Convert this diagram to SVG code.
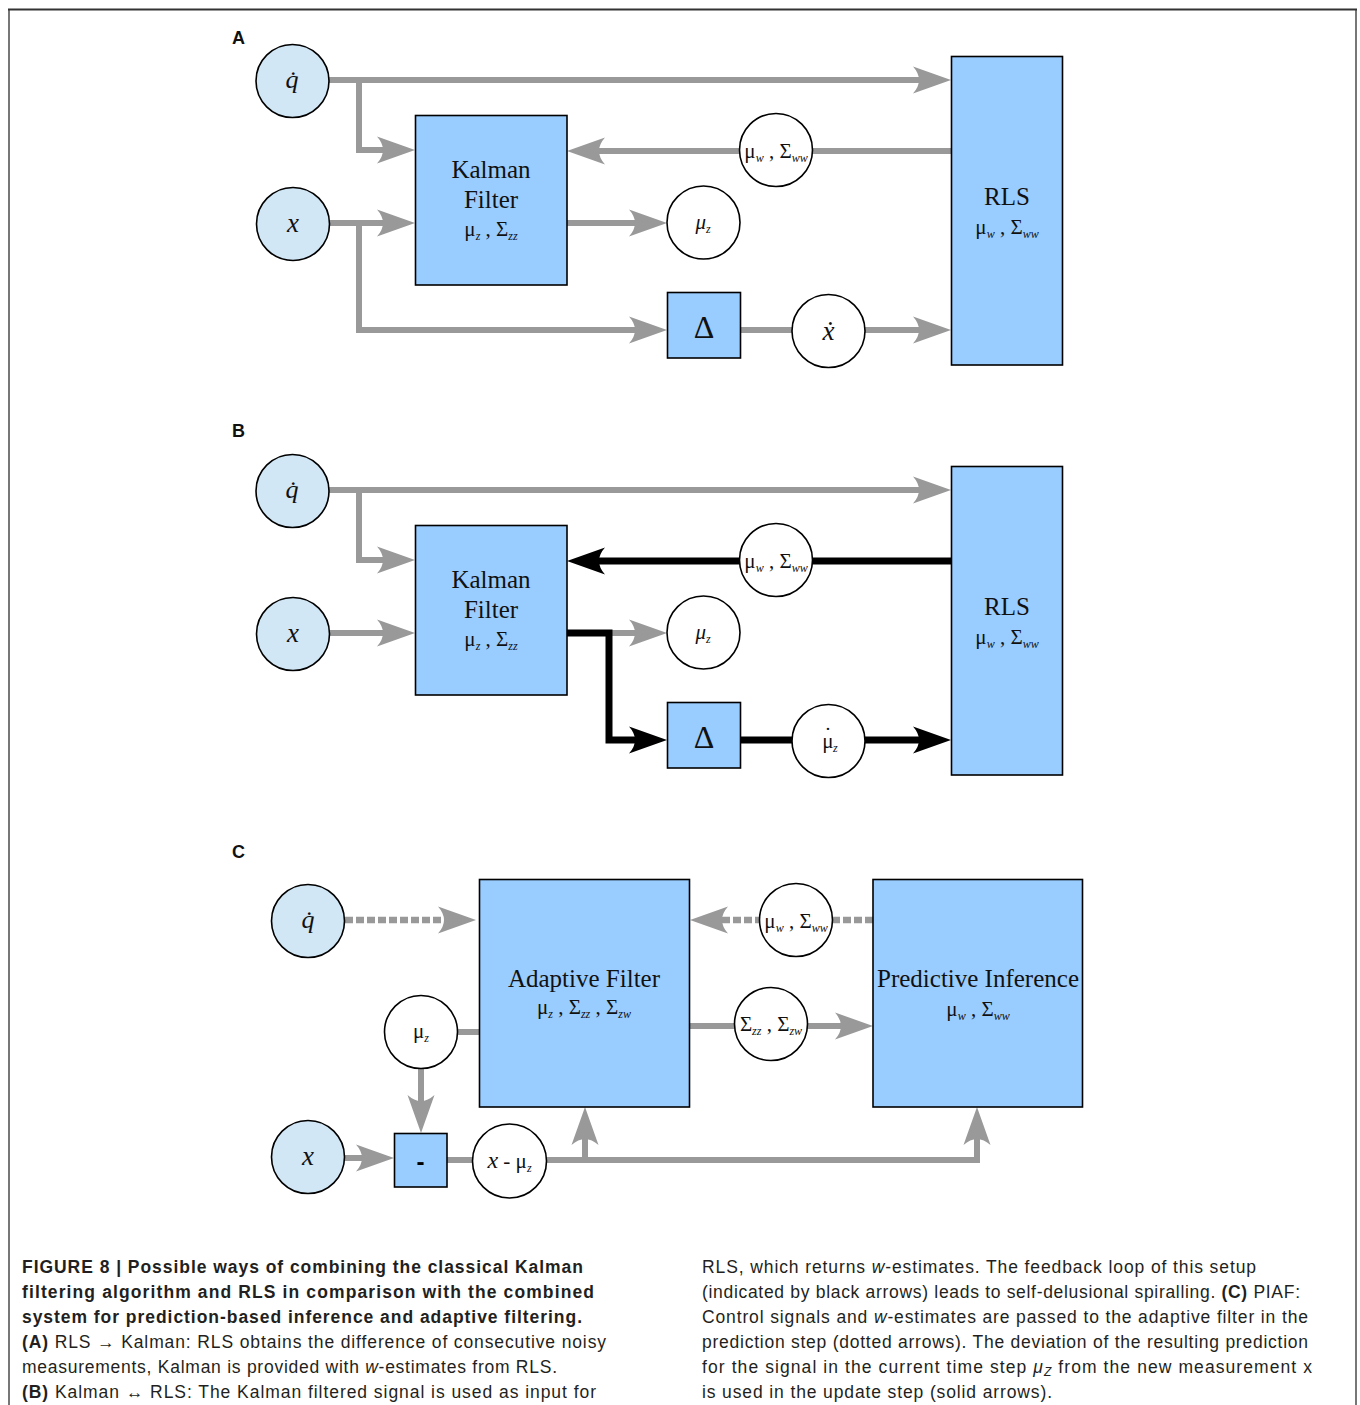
<svg xmlns="http://www.w3.org/2000/svg" width="1360" height="1405" viewBox="0 0 1360 1405">
<style>
.bg{fill:#fff}
.box{fill:#99ccff;stroke:#000;stroke-width:1.6}
.cin{fill:#d1e7f5;stroke:#000;stroke-width:1.6}
.cw{fill:#fff;stroke:#000;stroke-width:1.6}
.g{fill:none;stroke:#999;stroke-width:6}
.k{fill:none;stroke:#000;stroke-width:7}
.d{fill:none;stroke:#999;stroke-width:6.5;stroke-dasharray:8 3}
.t{font-family:"Liberation Serif","Times New Roman",serif;fill:#111;text-anchor:middle}
.tt{font-size:25px}
.m{font-size:21px}
.sub{font-size:12px;font-style:italic}
.it{font-style:italic}
.lbl{font-family:"Liberation Sans",Arial,sans-serif;font-weight:bold;font-size:18px;fill:#111}
.cap{font-family:"Liberation Sans",Arial,sans-serif;font-size:17.5px;fill:#231f20}
.b{font-weight:bold}
</style>
<defs>
<marker id="ag" markerUnits="userSpaceOnUse" markerWidth="50" markerHeight="30" viewBox="-10 -15 50 30" refX="0" refY="0" orient="auto" overflow="visible">
<path d="M30,0 L-8,-13.5 Q4,0 -8,13.5 Z" fill="#999"/>
</marker>
<marker id="ak" markerUnits="userSpaceOnUse" markerWidth="50" markerHeight="30" viewBox="-10 -15 50 30" refX="0" refY="0" orient="auto" overflow="visible">
<path d="M30,0 L-8,-13.5 Q4,0 -8,13.5 Z" fill="#000"/>
</marker>
</defs>
<rect class="bg" x="0" y="0" width="1360" height="1405"/>
<path d="M9,1406 V9.5" fill="none" stroke="#777" stroke-width="2"/>
<path d="M1356,1406 V9.5" fill="none" stroke="#777" stroke-width="2"/>
<path d="M8,9.5 H1357" fill="none" stroke="#333" stroke-width="2"/>

<text class="lbl" x="232" y="44">A</text>
<text class="lbl" x="232" y="437">B</text>
<text class="lbl" x="232" y="858">C</text>

<g id="connectors">
<!-- A -->
<path class="g" d="M329,80 H921" marker-end="url(#ag)"/>
<path class="g" d="M359,80 V150 H385" marker-end="url(#ag)"/>
<path class="g" d="M330,223 H385" marker-end="url(#ag)"/>
<path class="g" d="M359,223 V330 H637" marker-end="url(#ag)"/>
<path class="g" d="M567,223 H637" marker-end="url(#ag)"/>
<path class="g" d="M951,151 H597" marker-end="url(#ag)"/>
<path class="g" d="M741,330 H921" marker-end="url(#ag)"/>
<!-- B -->
<path class="g" d="M329,490 H921" marker-end="url(#ag)"/>
<path class="g" d="M359,490 V560 H385" marker-end="url(#ag)"/>
<path class="g" d="M330,633 H385" marker-end="url(#ag)"/>
<path class="g" d="M612,633 H637" marker-end="url(#ag)"/>
<path class="k" d="M951,561 H597" marker-end="url(#ak)"/>
<path class="k" d="M567,633 H609 V740 H637" marker-end="url(#ak)"/>
<path class="k" d="M741,740 H921" marker-end="url(#ak)"/>
<!-- C -->
<path class="d" d="M345,920 H446" marker-end="url(#ag)"/>
<path class="d" d="M873,920 H720" marker-end="url(#ag)"/>
<path class="g" d="M690,1026 H843" marker-end="url(#ag)"/>
<path class="g" d="M457,1032 H479"/>
<path class="g" d="M421,1068 V1103" marker-end="url(#ag)"/>
<path class="g" d="M344,1158 H364" marker-end="url(#ag)"/>
<path class="g" d="M447,1160 H977 V1137" marker-end="url(#ag)"/>
<path class="g" d="M585,1160 V1137" marker-end="url(#ag)"/>
</g>

<!-- Panel A nodes -->
<g id="a-qdot"><circle class="cin" cx="292.5" cy="81" r="36.5"/><text class="t it" x="292" y="88" font-size="26">q̇</text></g>
<g id="a-x"><circle class="cin" cx="293" cy="224" r="36.5"/><text class="t it" x="293" y="232" font-size="27">x</text></g>
<g id="a-kalman"><rect class="box" x="415.5" y="115.5" width="151.5" height="169.5"/>
<text class="t tt" x="491" y="178">Kalman</text><text class="t tt" x="491" y="208">Filter</text>
<text class="t m" x="491" y="236">μ<tspan class="sub" dy="4">z</tspan><tspan dy="-4"> , Σ</tspan><tspan class="sub" dy="4">zz</tspan></text></g>
<g id="a-muw"><circle class="cw" cx="776" cy="150" r="36.5"/><text class="t m" x="776" y="158">μ<tspan class="sub" dy="4">w</tspan><tspan dy="-4"> , Σ</tspan><tspan class="sub" dy="4">ww</tspan></text></g>
<g id="a-muz"><circle class="cw" cx="703.5" cy="222.5" r="36.5"/><text class="t m it" x="703" y="229">μ<tspan class="sub" dy="4">z</tspan></text></g>
<g id="a-delta"><rect class="box" x="667.5" y="292.5" width="73" height="65.5"/><text class="t" x="704" y="338" font-size="32">Δ</text></g>
<g id="a-xdot"><circle class="cw" cx="828.5" cy="331" r="36.5"/><text class="t it" x="828.5" y="340" font-size="27">ẋ</text></g>
<g id="a-rls"><rect class="box" x="951.5" y="56.5" width="111" height="308.5"/>
<text class="t tt" x="1007" y="205">RLS</text>
<text class="t m" x="1007" y="234">μ<tspan class="sub" dy="4">w</tspan><tspan dy="-4"> , Σ</tspan><tspan class="sub" dy="4">ww</tspan></text></g>

<!-- Panel B nodes -->
<g id="b-qdot"><circle class="cin" cx="292.5" cy="491" r="36.5"/><text class="t it" x="292" y="498" font-size="26">q̇</text></g>
<g id="b-x"><circle class="cin" cx="293" cy="634" r="36.5"/><text class="t it" x="293" y="642" font-size="27">x</text></g>
<g id="b-kalman"><rect class="box" x="415.5" y="525.5" width="151.5" height="169.5"/>
<text class="t tt" x="491" y="588">Kalman</text><text class="t tt" x="491" y="618">Filter</text>
<text class="t m" x="491" y="646">μ<tspan class="sub" dy="4">z</tspan><tspan dy="-4"> , Σ</tspan><tspan class="sub" dy="4">zz</tspan></text></g>
<g id="b-muw"><circle class="cw" cx="776" cy="560" r="36.5"/><text class="t m" x="776" y="568">μ<tspan class="sub" dy="4">w</tspan><tspan dy="-4"> , Σ</tspan><tspan class="sub" dy="4">ww</tspan></text></g>
<g id="b-muz"><circle class="cw" cx="703.5" cy="632.5" r="36.5"/><text class="t m it" x="703" y="639">μ<tspan class="sub" dy="4">z</tspan></text></g>
<g id="b-delta"><rect class="box" x="667.5" y="702.5" width="73" height="65.5"/><text class="t" x="704" y="748" font-size="32">Δ</text></g>
<g id="b-muzdot"><circle class="cw" cx="828.5" cy="741" r="36.5"/><text class="t m" x="830" y="748">μ<tspan dx="-9.5" dy="-6" font-size="22">˙</tspan><tspan class="sub" dx="1.5" dy="10">z</tspan></text></g>
<g id="b-rls"><rect class="box" x="951.5" y="466.5" width="111" height="308.5"/>
<text class="t tt" x="1007" y="615">RLS</text>
<text class="t m" x="1007" y="644">μ<tspan class="sub" dy="4">w</tspan><tspan dy="-4"> , Σ</tspan><tspan class="sub" dy="4">ww</tspan></text></g>

<!-- Panel C nodes -->
<g id="c-qdot"><circle class="cin" cx="308" cy="921" r="36.5"/><text class="t it" x="308" y="928" font-size="26">q̇</text></g>
<g id="c-x"><circle class="cin" cx="308" cy="1157" r="36.5"/><text class="t it" x="308" y="1165" font-size="27">x</text></g>
<g id="c-adaptive"><rect class="box" x="479.5" y="879.5" width="210" height="227.5"/>
<text class="t tt" x="584" y="987">Adaptive Filter</text>
<text class="t m" x="584" y="1014">μ<tspan class="sub" dy="4">z</tspan><tspan dy="-4"> , Σ</tspan><tspan class="sub" dy="4">zz</tspan><tspan dy="-4"> , Σ</tspan><tspan class="sub" dy="4">zw</tspan></text></g>
<g id="c-muw"><circle class="cw" cx="796" cy="920" r="36.5"/><text class="t m" x="796" y="928">μ<tspan class="sub" dy="4">w</tspan><tspan dy="-4"> , Σ</tspan><tspan class="sub" dy="4">ww</tspan></text></g>
<g id="c-sigma"><circle class="cw" cx="771" cy="1024" r="36.5"/><text class="t m" x="771" y="1031">Σ<tspan class="sub" dy="4">zz</tspan><tspan dy="-4"> , Σ</tspan><tspan class="sub" dy="4">zw</tspan></text></g>
<g id="c-muz"><circle class="cw" cx="421" cy="1032" r="36.5"/><text class="t m" x="421" y="1038">μ<tspan class="sub" dy="4">z</tspan></text></g>
<g id="c-minus"><rect class="box" x="394.5" y="1133.5" width="52.5" height="53.5"/><text x="420.5" y="1170" text-anchor="middle" font-family="Liberation Sans,Arial,sans-serif" font-weight="bold" font-size="24" fill="#000">-</text></g>
<g id="c-diff"><circle class="cw" cx="509.5" cy="1161" r="37"/><text class="t m" x="509.5" y="1168"><tspan class="it" font-size="24">x</tspan> - μ<tspan class="sub" dy="4">z</tspan></text></g>
<g id="c-predictive"><rect class="box" x="873" y="879.5" width="209.5" height="227.5"/>
<text class="t tt" x="978" y="987">Predictive Inference</text>
<text class="t m" x="978" y="1016">μ<tspan class="sub" dy="4">w</tspan><tspan dy="-4"> , Σ</tspan><tspan class="sub" dy="4">ww</tspan></text></g>

<!-- Caption -->
<g id="caption" class="cap">
<text x="22" y="1273" textLength="561" lengthAdjust="spacing" class="b">FIGURE 8 | Possible ways of combining the classical Kalman</text>
<text x="22" y="1298" textLength="572" lengthAdjust="spacing" class="b">filtering algorithm and RLS in comparison with the combined</text>
<text x="22" y="1323" textLength="560" lengthAdjust="spacing" class="b">system for prediction-based inference and adaptive filtering.</text>
<text x="22" y="1348" textLength="584" lengthAdjust="spacing"><tspan class="b">(A)</tspan> RLS → Kalman: RLS obtains the difference of consecutive noisy</text>
<text x="22" y="1373" textLength="535" lengthAdjust="spacing">measurements, Kalman is provided with <tspan font-style="italic">w</tspan>-estimates from RLS.</text>
<text x="22" y="1398" textLength="574" lengthAdjust="spacing"><tspan class="b">(B)</tspan> Kalman ↔ RLS: The Kalman filtered signal is used as input for</text>
<text x="702" y="1273" textLength="554" lengthAdjust="spacing">RLS, which returns <tspan font-style="italic">w</tspan>-estimates. The feedback loop of this setup</text>
<text x="702" y="1298" textLength="598" lengthAdjust="spacing">(indicated by black arrows) leads to self-delusional spiralling. <tspan class="b">(C)</tspan> PIAF:</text>
<text x="702" y="1323" textLength="606" lengthAdjust="spacing">Control signals and <tspan font-style="italic">w</tspan>-estimates are passed to the adaptive filter in the</text>
<text x="702" y="1348" textLength="606" lengthAdjust="spacing">prediction step (dotted arrows). The deviation of the resulting prediction</text>
<text x="702" y="1373" textLength="610" lengthAdjust="spacing">for the signal in the current time step <tspan font-style="italic">μ</tspan><tspan font-style="italic" font-size="12" dy="3">Z</tspan><tspan dy="-3"> from the new measurement x</tspan></text>
<text x="702" y="1398" textLength="350" lengthAdjust="spacing">is used in the update step (solid arrows).</text>
</g>
</svg>
